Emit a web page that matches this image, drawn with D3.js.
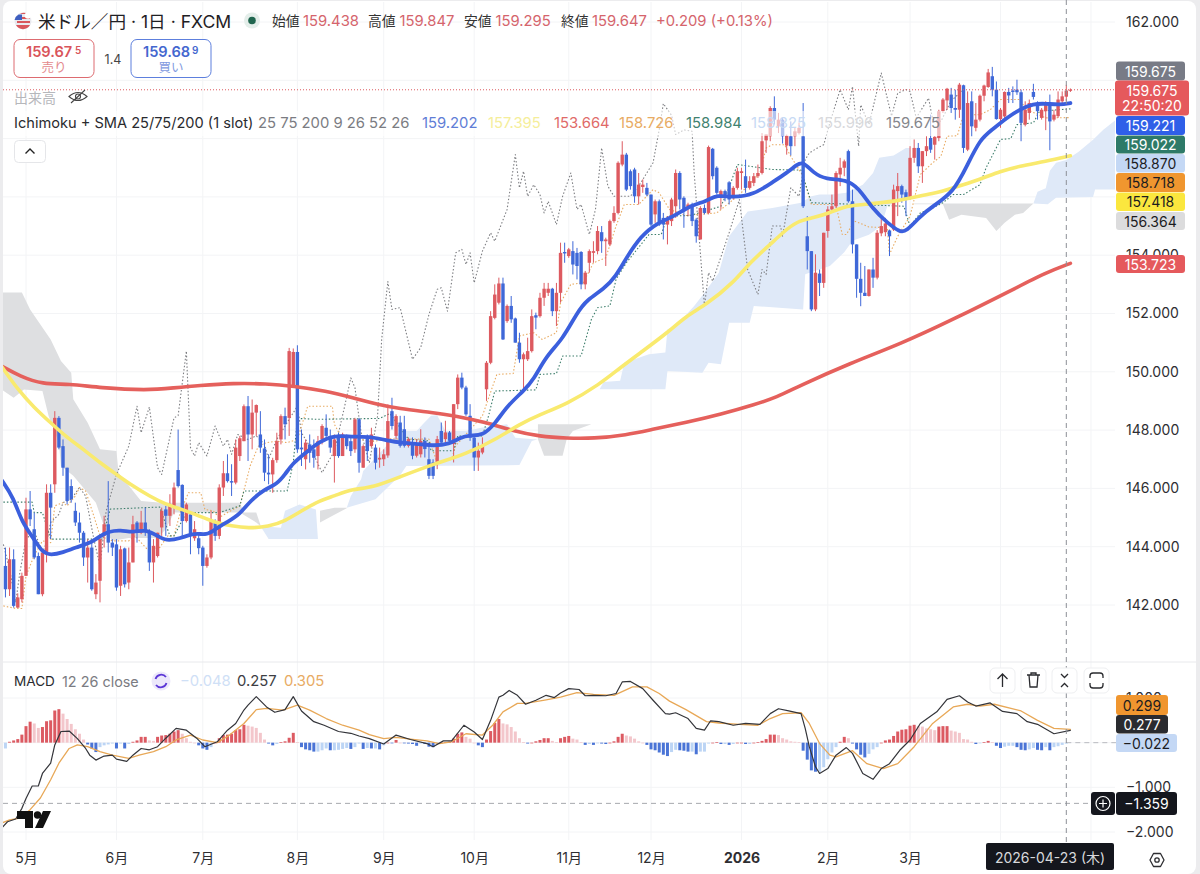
<!DOCTYPE html>
<html>
<head>
<meta charset="utf-8">
<script src="https://cdn.jsdelivr.net/npm/d3@7"></script>
<style>
html, body { margin: 0; padding: 0; background: #fff; }
svg { display: block; font-family: Inter, "Noto Sans CJK JP", sans-serif; }
.axis path { display: none; }
.axis line { display: none; }
</style>
</head>
<body>
<svg width="1200" height="874"></svg>
<script>
// daily bars, first bar is index -5 (five bars before 1 May)
var firstBar = -5;
var openP = [143.34,142.54,143.57,141.91,142.2,
143.0,145.28,144.6,143.68,142.37,143.8,145.85,146.14,148.42,147.45,
146.71,146.08,145.23,144.83,144.48,143.63,143.97,142.37,142.83,144.37,
144.77,144.14,144.08,142.66,143.94,142.77,143.46,144.83,144.48,144.83,
144.48,143.46,143.68,144.66,145.28,145.06,145.4,146.63,146.12,144.88,
145.11,144.29,144.29,143.97,143.34,143.63,144.88,144.37,146.03,146.52,
146.25,146.2,147.11,147.62,148.82,147.85,148.6,147.85,147.37,146.54,
146.48,146.97,147.68,148.48,148.42,149.53,150.68,147.4,147,147.51,
147.34,147.11,147.68,148.08,147.8,147.11,147.74,147.11,147.8,147.62,
147.34,148.37,146.71,147.8,147.45,147.4,146.99,147,147.13,148.65,
147.8,148.26,148.03,147.46,147.52,147.12,147.17,147.63,147.0,146.89,
146.89,147.97,147.69,147.92,147.52,148.89,149.8,149.46,148.49,147.74,
147.06,147.23,149.4,150.31,151.85,152.37,153.03,151.74,152.26,151.83,
151.0,150.43,150.43,150.71,151.94,151.91,152.54,152.71,152.85,152.08,
152.71,154.11,153.97,154.14,154.08,154.11,153.0,153.74,154.08,154.14,
154.79,154.48,154.37,155.17,155.45,157.11,157.45,156.88,156.94,156.02,
156.34,156.31,156.08,155.4,155.85,155.28,155.05,155.17,155.68,156.82,
155.97,155.62,155.74,155.22,154.54,155.62,155.45,157.65,157.0,156.02,
156.2,156.5,155.97,156.31,156.82,156.71,156.31,156.48,156.71,156.82,
157.94,158.08,159.05,158.42,158.65,157.76,158.08,158.08,158.19,158.08,
154.65,154.14,152.14,153.37,153.05,154.83,155.57,155.68,156.77,157.0,
157.57,155.85,154.37,153.19,152.71,152.6,153.51,153.23,154.75,154.79,
154.85,154.88,156.2,156.37,156.16,155.97,157.34,157.68,157.05,157.57,
158.02,157.79,158.02,158.94,159.31,159.51,159.05,158.99,159.83,157.62,
159.28,158.37,158.65,159.47,159.77,160.14,159.68,158.67,158.76,159.6,
159.65,159.68,159.59,158.48,158.88,159.6,159.22,158.71,158.94,159.16,
158.65,158.77,159.28,159.438,159.65];
var closeP = [142.54,143.57,141.97,142.26,143.0,
145.28,144.94,143.63,142.37,143.8,145.85,145.34,148.42,147.4,146.71,
145.57,145.63,144.83,144.48,143.63,143.97,142.54,142.77,144.26,144.77,
144.14,143.97,142.6,143.91,142.71,143.46,144.77,144.48,144.83,144.54,
143.46,144.03,144.48,145.23,145.06,145.4,146.03,146.08,144.88,145.45,
144.43,144.6,143.95,143.34,143.63,144.88,144.37,146.03,146.52,146.25,
146.2,147.4,147.72,148.82,147.85,148.6,148.86,147.4,146.54,146.48,
146.97,147.62,148.48,148.2,150.71,150.68,147.34,147.34,147.57,147.22,
147.05,147.62,148.14,147.8,147.4,147.68,147.11,147.85,147.45,147.28,
148.37,146.88,147.45,147.28,147.85,146.88,147.05,147.17,148.31,148.14,
148.48,147.46,147.46,147.69,147.12,147.52,147.63,147.35,146.43,146.43,
147.69,147.57,147.92,147.63,148.89,149.8,149.46,148.54,147.74,147.06,
147.29,147.46,150.31,151.91,152.65,153.03,151.11,152.26,151.8,151.0,
150.43,150.6,150.71,151.91,151.86,152.54,152.85,152.85,152.08,152.71,
154.08,154.06,154.2,153.68,153.63,153.0,153.4,154.14,154.14,154.83,
154.48,154.54,155.17,155.45,157.17,157.45,156.25,156.37,156.02,156.42,
156.42,156.08,155.05,155.85,155.05,155.05,155.28,155.91,156.82,155.91,
155.57,155.74,155.17,154.65,155.62,155.45,157.71,156.71,156.14,156.2,
155.97,155.91,156.31,156.88,156.88,156.31,156.54,156.71,156.82,157.91,
158.14,159.05,158.65,158.65,158.08,158.1,157.74,158.25,158.37,155.68,
154.14,152.14,153.4,153.05,154.77,155.57,155.68,156.82,157.0,157.22,
155.85,154.37,153.19,152.71,152.6,153.51,153.23,154.77,155.0,155.09,
154.65,156.25,156.37,156.08,155.91,157.34,157.68,157.05,157.57,157.74,
157.62,158.06,158.94,159.34,159.71,159.05,158.99,159.85,157.68,159.22,
158.42,158.65,159.47,159.82,160.27,159.68,158.67,158.99,159.6,159.48,
159.6,159.59,158.54,158.99,159.22,159.43,158.94,158.99,159.16,158.59,
158.82,159.34,159.45,159.647,159.675];
var highP = [143.97,143.97,143.91,142.4,143.11,
145.68,145.91,145.17,143.8,143.9,146.14,146.14,148.65,148.48,147.68,
146.71,146.31,145.51,145.17,144.54,144.26,144.14,143.06,144.37,145.06,
146.25,144.26,144.26,144.03,143.97,143.97,145.06,144.88,145.23,145.34,
144.6,144.26,144.48,145.34,145.4,145.8,146.2,148.02,146.14,145.51,
145.17,144.88,144.49,144.03,143.74,145.23,144.94,146.14,146.94,147.17,
146.83,147.68,147.8,148.88,149.17,149.05,148.88,148.65,147.68,147.17,
147.05,147.91,148.54,148.77,150.82,150.8,150.91,148.02,147.68,147.85,
147.68,147.8,148.2,148.54,148.02,147.85,147.91,147.91,147.85,147.8,
148.42,148.42,147.51,147.85,148.08,147.51,147.4,147.34,148.88,149.11,
148.54,148.49,148.49,147.75,147.75,147.69,148.03,147.75,147.46,147.0,
147.8,148.26,148.32,147.97,148.89,149.91,149.97,149.52,148.89,147.8,
147.57,147.75,150.37,152.08,153.0,153.23,153.23,152.31,152.6,151.86,
151.34,150.66,151.17,152.14,152.03,152.71,153.05,153.05,152.88,153.05,
154.43,154.43,154.25,154.48,154.25,154.14,153.46,154.2,154.48,155.0,
155.0,154.6,155.22,155.68,157.22,157.91,157.51,156.94,157.0,156.82,
156.6,156.48,156.08,155.91,155.91,155.45,155.34,155.97,156.94,156.88,
156.02,155.8,155.8,155.28,155.68,155.74,157.76,157.68,157.05,156.25,
156.25,156.54,156.37,157.0,157.0,157.28,156.71,156.82,157.11,158.19,
158.14,159.11,159.45,158.88,158.71,158.14,158.59,158.37,158.54,159.22,
155.34,154.14,154.03,153.51,154.77,155.68,156.08,156.88,157.34,157.28,
157.62,156.25,154.37,153.74,153.63,153.51,153.91,154.86,155.28,155.28,
154.88,156.42,156.82,156.42,156.25,157.74,157.97,157.85,157.57,158.08,
158.82,158.08,158.99,159.39,159.74,159.74,159.68,159.91,159.85,159.62,
159.62,159.22,159.51,159.85,160.39,160.46,159.96,159.05,159.62,159.74,
159.79,160.02,159.68,159.28,159.34,159.88,159.28,159.05,159.28,159.51,
158.99,159.62,159.62,159.847,159.72];
var lowP = [142.26,142.31,141.91,141.9,142.09,
143.0,144.71,143.57,142.37,142.3,143.46,144.26,145.85,147.34,146.43,
145.45,145.51,144.71,144.14,143.34,142.77,142.49,142.2,142.09,143.97,
143.8,143.68,142.49,142.31,142.6,142.54,143.46,144.14,144.43,144.37,
143.17,142.77,143.63,144.37,144.37,144.71,145.11,146.03,144.37,144.83,
143.74,144.2,143.74,142.66,143.28,143.57,144.2,144.26,145.74,146.2,
145.74,146.14,146.94,147.62,146.94,147.34,147.8,147.22,146.25,146.14,
145.85,146.88,147.51,147.68,147.8,149.5,147.22,146.77,146.65,146.88,
146.71,146.65,147.51,147.68,147.22,146.2,147.05,147.11,147.34,147.11,
147.22,146.54,146.71,146.94,147.4,146.65,146.71,146.77,147.05,148.02,
147.68,147.4,147.4,147.4,147.0,147.06,147.06,147.06,146.32,146.32,
146.66,147.52,147.57,147.57,146.89,148.72,149.4,148.49,147.63,146.6,
146.6,147.17,149.0,150.26,151.8,152.31,151.09,151.68,151.68,151.0,
150.31,149.4,150.37,150.66,151.46,151.86,152.26,152.6,151.91,151.57,
152.37,153.74,153.91,153.34,153.17,152.83,152.83,153.4,153.74,154.03,
154.08,153.63,154.31,155.11,155.4,157.05,156.2,156.25,155.8,155.74,
156.14,156.02,155.0,155.11,155.0,154.54,154.37,155.0,155.28,155.57,
154.94,155.34,155.0,154.43,154.54,155.4,155.4,156.6,156.08,155.57,
155.85,155.74,155.91,156.25,156.25,156.14,156.25,156.37,156.65,156.77,
157.51,157.91,158.48,158.19,157.83,157.45,157.42,157.74,158.14,155.62,
153.51,152.08,152.08,152.6,152.88,154.6,155.45,155.62,156.37,156.71,
155.8,154.06,152.54,152.25,152.6,152.58,152.88,153.17,154.65,154.65,
153.97,154.83,155.34,155.8,155.34,155.91,157.17,156.82,156.48,157.4,
157.51,157.28,157.91,158.88,158.99,158.88,158.65,158.71,157.51,157.57,
158.08,158.25,158.59,159.28,159.74,159.45,158.65,158.37,158.65,159.22,
159.22,159.5,157.91,158.42,158.65,159.34,158.65,158.65,158.29,157.6,
158.59,158.71,159.22,159.295,159.6];

// moving averages, read at the bar indices in the *At arrays
var sma25At = [-6,-3,-1,2,4,6,9,12,16,18,20,23,26,29,32,34,37.5,41,44,46,49,52,54.5,58,61,63,65,68,71.5,75,79,84.5,88.5,91,96,99,103,105.5,108,111,114,117,121,123.5,126.5,130.5,134,136.5,140.5,143.5,146,149.5,153.5,157.5,161.5,165.5,168,172,177,181.5,185,187.5,189,191.5,194.5,199.5,202.5,206,209.5,212.5,214,217.5,220.5,225.5,229,232,235,238.5,241.5,245,248,251.5,254];
var sma25 = [146.3,145.68,144.83,144.26,143.8,143.71,143.8,143.97,144.14,144.37,144.52,144.58,144.48,144.6,144.37,144.2,144.28,144.48,144.39,144.6,144.85,145.11,145.57,145.97,146.14,146.48,146.88,147.22,147.62,147.82,147.77,147.77,147.62,147.57,147.52,147.46,147.52,147.74,147.83,147.8,148.2,148.83,149.34,149.74,150.54,151.11,152.03,152.48,152.83,153.28,153.91,154.65,155.11,155.32,155.7,155.85,156.08,155.97,156.08,156.5,156.82,157.11,157.22,156.82,156.6,156.6,156.31,155.57,155.11,154.79,154.8,155.34,155.68,156.14,157.11,157.97,158.31,158.71,158.99,159.2,159.2,159.16,159.22];
var sma75At = [-6,-2,2,6,10,14,18,22,26,30,34,38,42,46,50,54,59,63,67,71.5,75,79,84.5,91,99,107,115,120,125,131.5,139.5,144.5,149.5,156,160.5,165.5,172,176,181,184,187.5,191.5,195.5,199.5,205,211.5,215,220.5,225.5,232,237,241.5,248,254];
var sma75 = [150.2,149.39,148.77,148.25,147.74,147.34,146.88,146.48,146.08,145.74,145.45,145.28,145.06,144.83,144.71,144.63,144.69,144.88,145.23,145.59,145.74,145.97,146.03,146.4,146.83,147.17,147.74,148.2,148.54,148.89,149.57,150.14,150.66,151.34,151.91,152.31,153.05,153.74,154.37,154.77,155.17,155.28,155.45,155.7,155.76,155.85,155.97,156.1,156.31,156.6,156.88,157.05,157.22,157.41];
var sma200At = [-6,-1.5,4,10.5,18,29.5,36,42,50.5,58.5,65,73,79.5,85.5,90.5,99,104.5,112,118.5,125,131.5,138,146,152.5,160.5,169,177.5,182.5,188,200.5,212.5,226,240,248,254];
var sma200 = [150.2,149.85,149.57,149.59,149.45,149.36,149.45,149.53,149.61,149.59,149.51,149.34,149.11,148.88,148.74,148.6,148.49,148.26,147.97,147.78,147.72,147.71,147.83,148.03,148.26,148.54,148.89,149.12,149.51,150.3,150.94,151.83,152.82,153.4,153.72];

// ichimoku lines
var tenkanAt = [-5.5,-2.5,-1,0,2,4,6,7,9,10,12,13,14.5,16.5,18,21,25,26.5,28,29.5,32.5,34.5,36,37.5,39.5,42.5,43.5,45.5,47,49,52,53.5,54.5,56.5,58.5,61,63.5,66,68.5,74.5,75,76.5,78,84,88,92.5,98,100,103.5,104.5,111,114.5,118.5,120,123.5,125.5,129,130,132.5,135.5,138,141,143.5,145.5,149,152.5,154,156.5,160.5,168,173.5,178.5,180,181.5,184.5,186,189,191,197,198.5,199.5,201.5,205,209.5,210,212,215,217.5,220.5,222.5,224,226.5,228,232,234.5,237,241.5,243.5,248,254];
var tenkan = [141.97,141.88,141.88,143.0,143.7,144.2,144.14,145.4,145.51,145.4,145.74,146.03,145.91,145.05,144.37,144.2,144.2,144.37,144.14,143.91,143.97,144.37,144.37,145.17,145.85,145.85,145.28,145.23,145.0,145.17,145.4,146.2,146.77,147.45,147.57,147.62,147.57,147.68,148.82,148.82,148.2,147.8,147.8,147.6,147.7,147.69,147.69,146.89,147.0,147.46,148.49,149.91,149.94,151.23,151.34,151.11,151.34,152.37,153.0,153.05,153.74,153.91,155.0,155.74,155.74,156.25,156.14,155.57,155.36,155.45,156.08,156.82,157.68,157.79,157.79,157.39,156.71,155.74,155.74,154.71,154.71,155.17,154.97,154.94,154.03,154.65,155.34,156.77,157.17,157.39,158.08,158.1,158.82,158.82,158.99,159.34,159.34,158.99,158.71,158.72];
var kijunAt = [-5.5,1.5,2,4,6,18.5,20.5,32.5,35,36,39,47,52,53,63.5,65,66,71,86,88.5,93,98,98.5,104,105,111,112.5,114,124,125,129,130.5,135,137.5,139,142,143.5,146,151.5,154.5,156,161.5,169,170.5,173,181.5,188.5,191,213.5,215,217.5,220.5,223,225.5,228,232,233.5,237,239.5,241,245,246.5,254];
var kijun = [145.53,145.53,145.17,145.17,144.26,144.26,145.29,145.36,144.37,144.37,145.17,145.17,145.4,145.91,145.91,146.88,148.4,148.37,148.4,148.57,147.69,147.63,147.29,147.29,147.8,147.8,148.49,149.34,149.38,149.91,149.94,150.54,150.54,151.8,152.2,152.26,153.17,153.74,154.71,154.71,155.34,155.36,155.68,156.14,157.11,156.94,156.92,155.8,155.68,154.99,155.45,155.62,155.8,156.08,156.08,156.42,157.0,157.97,158.0,158.48,158.54,158.94,159.02];
var chikouAt = [-5.5,-4,-2.5,-1.5,0,2,4,5,6,8,9,11,13,14.5,16.5,18,19.5,22,25,27,28,30,32,33,36,37,39,40,41,42,44,46,48,49,50,51.5,54,56,58,59,61,64,66,67,69,72,75,77.5,79,80,81.5,83.5,85.5,86.5,88,89,91,94,96,98,100,101,102.5,104.5,106,107,108,109,111,113,114,117,119,120,121,122,123.5,125,126,127,129,130.5,132.5,134,135,137,138.5,140,141.5,143,147,149.5,152.5,154,155,157,158,160,162,162.5,165,166,167,171,173.5,175.5,178,179,180,181.5,183.5,184,186,188,189.5,190.5,192.5,194,195.5,198,200,201,202.5,203,205,208,210.5,212,214,215,216.5,219.5,220.5,222.5,225,228];
var chikou = [144.08,143.23,142.09,143.11,144.26,144.54,143.8,144.14,144.83,145.11,145.51,145.63,146.03,145.74,144.26,143.34,145.23,146.48,147.45,148.82,147.91,148.79,146.71,146.48,148.42,148.5,150.71,147.4,147.11,147.57,147.11,148.14,147.45,147.68,147.17,147.85,147.68,147.8,147.51,147.0,147.68,148.37,148.82,147.91,147.45,146.54,147.28,148.82,149.79,149.45,147.91,146.88,148.48,151.11,153.1,152.14,152.2,150.43,150.83,151.97,152.83,152.88,152.08,154.08,154.2,153.68,154.08,153.05,154.14,154.77,154.48,155.57,157.45,156.31,156.88,156.02,156.42,156.08,155.45,155.85,155.05,156.02,156.82,155.57,155.74,154.71,155.57,157.68,156.37,156.02,156.02,156.48,157.17,158.31,159.2,158.8,158.14,158.3,158.25,156.82,152.26,153.4,153.11,154.77,155.91,153.51,152.65,153.51,153.34,155.0,155.0,154.65,156.31,156.02,157.28,157.51,157.68,157.79,158.54,159.68,158.99,159.79,157.74,159.16,158.48,160.25,158.77,159.56,159.68,159.62,158.71,159.39,158.65,158.59,159.3,159.675];

// kumo pieces, gray = span A below span B, blue = span A above
var gray1At = [-6,-1,1,6,8.5,11,11.5,15,18,22,22.5,27,28,33,52,53,56,57];
var gray1Top = [152.72,152.72,152.14,151.11,150.37,149.97,149.06,148.25,147.34,147.28,146.54,145.74,145.57,145.51,145.51,145.17,145.17,144.75];
var gray1LowAt = [-6,-3,-0.5,4,5.5,8,8.5,11.5,17,19.5,21,25,32,34,36,46,52,56,57];
var gray1Low = [149.4,149.11,149.39,149.34,148.48,147.57,146.77,146.43,145.51,144.48,144.2,144.3,144.3,144.6,145.17,145.17,145.17,144.83,144.71];
var blue1At = [57,62,63,66.5,70.5,71];
var blue1Top = [144.71,144.65,145.23,145.45,145.28,144.26];
var blue1LowAt = [57,59,71];
var blue1Low = [144.71,144.26,144.26];
var gray2At = [71.5,75,78];
var gray2Top = [145.23,145.34,145.34];
var gray2Low = [144.83,145.1,145.32];
var blue2At = [78,79,81.5,82,91,95,96.5,98.5,100,102,107,111,117,119,123.5,124.5];
var blue2Top = [145.34,145.74,146.31,146.6,147.97,147.97,148.2,148.49,148.51,147.97,147.97,148.09,148.2,147.74,147.69,147.69];
var blue2LowAt = [78,85,91,92.5,120,123,124.5];
var blue2Low = [145.34,145.63,146.45,146.77,146.8,147.63,147.69];
var gray3At = [124.5,137.5];
var gray3Top = [148.2,148.2];
var gray3LowAt = [124.5,126,130.5,131.5,133,137.5];
var gray3Low = [147.69,147.12,147.12,147.69,147.97,148.2];
var blue3At = [137.5,139.5,140.5,144.5,145.5,151.5,155.5,156,158,162.5,165,168.5,171,175.5,181.5,188.5,191,193,196,199.5,203.5,206,207.5,211,214,215];
var blue3Top = [148.2,149.4,149.65,149.69,150.31,150.6,150.66,151.46,151.57,152.26,152.71,153.4,154.65,155.5,155.62,155.8,156.02,156.08,156.08,156.14,156.42,156.82,157.34,157.42,157.68,157.68];
var blue3LowAt = [137.5,139.5,155.5,156,164.5,166,169,171,176,177,189,189.5,195.5,199,201,205,208,209.5,215];
var blue3Low = [148.2,149.4,149.4,150.03,149.97,150.31,150.26,151.68,151.68,152.26,152.14,153.35,153.63,154.1,154.5,154.7,155.0,155.7,156.0];
var gray4At = [216,245];
var gray4Top = [155.77,155.77];
var gray4LowAt = [216,223,224.5,227.5,233.5,236,238,240.5,242.5,245];
var gray4Low = [155.75,155.75,155.22,155.39,155.28,154.83,155.11,155.39,155.45,155.77];
var blue4At = [245,246,248,249,250.5,253,256,259.5,262,265];
var blue4Top = [155.77,156.18,156.3,156.9,157.17,157.27,157.55,157.96,158.3,158.64];
var blue4LowAt = [245,248.5,250.5,259.5,260,265];
var blue4Low = [155.77,155.75,155.97,156.0,156.25,156.25];

// macd pane
var macdAt = [-6,-4.5,-2.5,-1,0,1.5,3,4,6,7,8.5,10.5,12.5,14.5,15.5,17,19,21,22,24.5,26,28,30,32,34,36.5,39,41.5,43.5,46.5,49,51,53,54,56,58.5,60.5,63,65,67,70,72.5,76,79,81,83.5,87,90,93.5,97.5,99,101.5,103.5,106.5,109,111,113,115,116,117.5,119.5,121.5,124,126.5,128.5,130,132,134.5,136,138,141,143.5,145,147,150,152.5,155.5,156.5,158,161,163,165,166.5,168.5,172,175,178.5,181,183,185.5,188.5,189.5,190.5,192,193,195,197,199.5,201,203.5,206,208,210,212.5,215,217.5,221.5,224,227,229,231,234.5,237.5,241,243.5,246,250,254];
var macdLine = [-1.92,-1.77,-1.71,-1.47,-1.25,-0.97,-0.97,-0.69,-0.46,-0.05,0.25,0.26,0.09,-0.13,-0.28,-0.39,-0.3,-0.28,-0.37,-0.42,-0.28,-0.13,-0.16,-0.09,0.1,0.32,0.28,0.1,-0.09,0.02,0.28,0.43,0.73,0.84,1.03,0.8,0.68,0.74,1.03,0.71,0.47,0.39,0.25,0.21,0.15,0.09,-0.03,0.17,0.07,-0.02,-0.09,0.04,0.04,0.39,0.24,0.07,0.5,1.02,1.06,1.17,1.06,0.86,0.95,1.06,1.01,1.11,1.21,1.19,1.05,1.06,1.05,1.1,1.36,1.37,1.21,0.95,0.65,0.64,0.67,0.54,0.32,0.28,0.49,0.47,0.39,0.43,0.41,0.65,0.76,0.71,0.65,0.32,-0.09,-0.54,-0.69,-0.58,-0.28,-0.11,-0.24,-0.69,-0.82,-0.58,-0.47,-0.17,0.06,0.43,0.69,0.97,1.05,0.91,0.82,0.89,0.7,0.65,0.47,0.41,0.2,0.277];
var signalAt = [-6,-4,-1.5,1,3.5,6,8,10.5,12.5,15,18,21,25,27.5,31,34,36.5,40,43,46.5,49.5,53,56,58.5,62.5,66,69,73,77,81,83.5,87,90,93.5,97.5,100.5,103.5,107,111,113.5,116,119.5,121.5,126.5,130,134,138,143,147.5,151,154,156.5,160.5,165.5,168.5,173.5,178,181,184,188.5,190.5,193,195.5,197,201,204.5,208.5,212,216,220.5,225.5,229,232,235.5,242,246,250,254];
var signalLine = [-1.8,-1.73,-1.69,-1.5,-1.24,-0.83,-0.46,-0.13,-0.05,-0.09,-0.2,-0.28,-0.35,-0.28,-0.2,-0.09,0.06,0.17,0.06,0,0.17,0.43,0.74,0.77,0.73,0.84,0.73,0.54,0.39,0.28,0.18,0.09,0.12,0.08,0.04,-0.02,0.02,0.2,0.17,0.39,0.69,0.88,0.88,0.96,1.02,1.12,1.08,1.06,1.25,1.25,1.1,0.93,0.74,0.47,0.44,0.41,0.39,0.54,0.65,0.67,0.43,-0.02,-0.28,-0.32,-0.18,-0.47,-0.58,-0.47,-0.09,0.43,0.8,0.86,0.82,0.86,0.71,0.5,0.32,0.299];
var macdHist = [-0.13,0.02,0.05,0.08,0.18,
0.37,0.47,0.43,0.33,0.35,0.48,0.5,0.72,0.75,0.65,
0.53,0.42,0.3,0.2,0.07,-0.04,-0.13,-0.21,-0.1,-0.06,
-0.04,-0.02,-0.13,-0.02,-0.13,-0.03,0.02,0.05,0.13,0.13,
0.05,0.04,0.13,0.16,0.17,0.2,0.25,0.28,0.2,0.1,
0.02,0,-0.06,-0.13,-0.16,-0.1,0,0.1,0.17,0.18,
0.2,0.28,0.3,0.4,0.38,0.36,0.33,0.22,0.07,-0.02,
-0.06,-0.03,0.01,0.03,0.11,0.22,0.01,-0.1,-0.15,-0.17,
-0.2,-0.2,-0.17,-0.13,-0.17,-0.17,-0.16,-0.14,-0.12,-0.14,
-0.1,-0.02,-0.14,-0.12,-0.13,-0.13,-0.15,-0.06,0,-0.01,
0.06,0,-0.01,-0.02,-0.03,-0.07,-0.02,-0.03,-0.09,-0.1,
-0.03,0,0.01,0.02,0.09,0.2,0.23,0.13,0.09,0,
-0.06,-0.1,0.07,0.26,0.44,0.53,0.43,0.41,0.35,0.25,
0.1,0.01,-0.02,0,0.03,0.06,0.1,0.1,0.04,0.01,
0.1,0.13,0.15,0.09,0.07,0.01,-0.05,-0.03,-0.05,-0.01,
-0.02,-0.03,0,0.03,0.13,0.2,0.16,0.14,0.09,0.03,
0,-0.05,-0.15,-0.17,-0.22,-0.27,-0.3,-0.21,-0.16,-0.17,
-0.18,-0.2,-0.2,-0.26,-0.2,-0.2,-0.02,0,0.01,-0.03,
-0.03,-0.05,-0.03,0,0,-0.03,-0.03,0,0.01,0.04,
0.08,0.18,0.18,0.17,0.1,0.07,0.03,0.02,0.01,-0.18,
-0.38,-0.62,-0.65,-0.65,-0.55,-0.37,-0.22,-0.1,0.02,0.13,
0.1,-0.02,-0.15,-0.27,-0.33,-0.25,-0.15,-0.1,0,0.05,
0.07,0.15,0.25,0.29,0.3,0.38,0.4,0.37,0.36,0.32,
0.3,0.28,0.36,0.37,0.37,0.27,0.25,0.22,0.08,0.07,
0.02,-0.03,-0.01,0.01,0.04,0.01,-0.07,-0.12,-0.09,-0.07,
-0.07,-0.1,-0.16,-0.17,-0.15,-0.12,-0.16,-0.17,-0.1,-0.17,
-0.1,-0.08,-0.05,-0.022];

// axes
var priceTicks = [142,144,146,148,150,152,154,156,158,160,162];
var priceLabels = [142,144,146,148,150,152,154,162]; // 156-160 sit behind the price tags
var macdGrid = [-2,-1,0,1];
var macdTicks = [-2,-1,1];
var monthAt = [0,22,43,66,87,109,132,152,174,195,215,237,259];
var monthLabels = ['5月','6月','7月','8月','9月','10月','11月','12月','2026','2月','3月','4月','5月'];

var lastPrice = 159.675, crossBar = 253, crossMacd = -1.359;

var x = d3.scaleLinear().domain([0,253]).range([26,1066.3]);
var y = d3.scaleLinear().domain([142,162]).range([605,22]);
var yM = d3.scaleLinear().domain([-2,1]).range([832,698]);

var upColor = '#dd5a60', downColor = '#3f68d8', gridColor = '#f3f4f6', textColor = '#2e2e32';

var svg = d3.select('svg');
svg.append('rect').attr('width',1200).attr('height',874).attr('fill','#ececee');
svg.append('rect').attr('x',3).attr('y',1).attr('width',1193).attr('height',873).attr('rx',8).attr('fill','#fff');

var defs = svg.append('defs');
defs.append('clipPath').attr('id','mainClip').append('rect').attr('x',3).attr('y',0).attr('width',1112).attr('height',662);
defs.append('clipPath').attr('id','macdClip').append('rect').attr('x',3).attr('y',662).attr('width',1112).attr('height',178);

// grid
var gridG = svg.append('g');
gridG.selectAll('.vgrid').data(monthAt).enter().append('line')
    .attr('x1',function(d){return x(d);}).attr('x2',function(d){return x(d);})
    .attr('y1',2).attr('y2',840).attr('stroke',gridColor);
gridG.selectAll('.hgrid').data(priceTicks).enter().append('line')
    .attr('x1',3).attr('x2',1115)
    .attr('y1',function(d){return y(d);}).attr('y2',function(d){return y(d);}).attr('stroke',gridColor);
gridG.selectAll('.mgrid').data(macdGrid).enter().append('line')
    .attr('x1',3).attr('x2',1115)
    .attr('y1',function(d){return yM(d);}).attr('y2',function(d){return yM(d);}).attr('stroke',gridColor);

var main = svg.append('g').attr('clip-path','url(#mainClip)');

function zip(at, vals) {
    return at.map(function(a,i){ return {i:a, v:vals[i]}; });
}

// each kumo piece has a top edge and a lower edge, the lower edge goes back in reverse
function kumo(topAt, topVals, lowAt, lowVals, color) {
    var line = d3.line().x(function(d){return x(d.i);}).y(function(d){return y(d.v);});
    var pts = zip(topAt, topVals).concat(zip(lowAt, lowVals).reverse());
    main.append('path').attr('d', line(pts)+'Z').attr('fill',color).attr('stroke','none');
}
var cloudGray = '#dedfe1', cloudBlue = '#dfe9f8';
kumo(gray1At, gray1Top, gray1LowAt, gray1Low, cloudGray);
kumo(blue1At, blue1Top, blue1LowAt, blue1Low, cloudBlue);
kumo(gray2At, gray2Top, gray2At, gray2Low, cloudGray);
kumo(blue2At, blue2Top, blue2LowAt, blue2Low, cloudBlue);
kumo(gray3At, gray3Top, gray3LowAt, gray3Low, cloudGray);
kumo(blue3At, blue3Top, blue3LowAt, blue3Low, cloudBlue);
kumo(gray4At, gray4Top, gray4LowAt, gray4Low, cloudGray);
kumo(blue4At, blue4Top, blue4LowAt, blue4Low, cloudBlue);

// thin dotted ichimoku lines
function drawLine(g, at, vals, sc, color, width, dash, curve) {
    var line = d3.line().x(function(d){return x(d.i);}).y(function(d){return sc(d.v);});
    if (curve) line.curve(curve);
    g.append('path').attr('d',line(zip(at,vals))).attr('fill','none')
        .attr('stroke',color).attr('stroke-width',width)
        .attr('stroke-dasharray',dash).attr('stroke-linejoin','round')
        .attr('stroke-linecap',dash?'butt':'round');
}
drawLine(main, chikouAt, chikou, y, '#7d7e82', 1.1, '1.5,2');
drawLine(main, tenkanAt, tenkan, y, '#e8ab63', 1.1, '1.5,2');
drawLine(main, kijunAt, kijun, y, '#3b7c69', 1.1, '1.5,2');

// candles
var bars = openP.map(function(o,k){
    return {i:k+firstBar, o:o, c:closeP[k], h:highP[k], l:lowP[k]};
});
main.selectAll('.wick').data(bars).enter().append('line')
    .attr('x1',function(d){return x(d.i);}).attr('x2',function(d){return x(d.i);})
    .attr('y1',function(d){return y(d.h);}).attr('y2',function(d){return y(d.l);})
    .attr('stroke',function(d){return d.c>=d.o?upColor:downColor;}).attr('stroke-width',1);
main.selectAll('.body').data(bars).enter().append('rect')
    .attr('x',function(d){return x(d.i)-1.7;}).attr('width',3.4)
    .attr('y',function(d){return y(Math.max(d.o,d.c));})
    .attr('height',function(d){return Math.max(1,Math.abs(y(d.o)-y(d.c)));})
    .attr('fill',function(d){return d.c>=d.o?upColor:downColor;});

// sma 200, 75, 25
drawLine(main, sma200At, sma200, y, '#e5605c', 3.6, null, d3.curveBasis);
drawLine(main, sma75At, sma75, y, '#f9ea6e', 3.6, null, d3.curveBasis);
drawLine(main, sma25At, sma25, y, '#3b5fdd', 3.8, null, d3.curveBasis);

// legend row washes out what is behind it
svg.append('rect').attr('x',3).attr('y',111).attr('width',945).attr('height',25).attr('fill','#fff').attr('opacity',0.6);

// last price line
svg.append('line').attr('x1',3).attr('x2',1115).attr('y1',y(lastPrice)).attr('y2',y(lastPrice))
    .attr('stroke','#dd5a60').attr('stroke-width',1).attr('stroke-dasharray','1,2');

// macd pane
svg.append('line').attr('x1',3).attr('x2',1196).attr('y1',662).attr('y2',662).attr('stroke','#e8e9ec');
var macdG = svg.append('g').attr('clip-path','url(#macdClip)');
macdG.selectAll('.hist').data(macdHist).enter().append('rect')
    .attr('x',function(d,k){return x(k+firstBar)-1.5;}).attr('width',3)
    .attr('y',function(d){return d>=0?yM(d):yM(0);})
    .attr('height',function(d){return Math.max(0.7,Math.abs(yM(d)-yM(0)));})
    .attr('fill',function(d,k){
        var prev = k>0?macdHist[k-1]:d;
        if (d>=0) return d>=prev?'#dc5a62':'#f3c6cb';
        return d<prev?'#4a74d6':'#bcd5f5';
    });
drawLine(macdG, signalAt, signalLine, yM, '#e8a857', 1.3, null);
drawLine(macdG, macdAt, macdLine, yM, '#34353a', 1.2, null);
svg.append('line').attr('x1',x(crossBar)).attr('x2',1116).attr('y1',yM(0)).attr('y2',yM(0))
    .attr('stroke','#b9bbc0').attr('stroke-dasharray','5,4');
svg.append('line').attr('x1',3).attr('x2',1091).attr('y1',yM(crossMacd)).attr('y2',yM(crossMacd))
    .attr('stroke','#a6a8ad').attr('stroke-dasharray','5,4');

// crosshair
svg.append('line').attr('x1',x(crossBar)).attr('x2',x(crossBar)).attr('y1',0).attr('y2',843)
    .attr('stroke','#8d8f96').attr('stroke-dasharray','5,4');

// tv logo
svg.append('path').attr('d','M17 811h16v17h-8v-9h-8zM43 811h8l-8 17h-8z').attr('fill','#111');
svg.append('circle').attr('cx',37.5).attr('cy',815).attr('r',3.7).attr('fill','#111');

// right price axis
var axisFont = '14px';
svg.append('g').attr('class','axis').attr('transform','translate(1126,0)')
    .call(d3.axisRight(y).tickValues(priceLabels).tickFormat(d3.format('.3f')).tickSize(0).tickPadding(0))
    .selectAll('text').style('font-size',axisFont).style('font-family','Inter').attr('fill',textColor);
svg.append('g').attr('class','axis').attr('transform','translate(1126,0)')
    .call(d3.axisRight(yM).tickValues(macdTicks).tickFormat(d3.format('.3f')).tickSize(0).tickPadding(0))
    .selectAll('text').style('font-size',axisFont).style('font-family','Inter').attr('fill',textColor);

// bottom time axis
var timeAxis = svg.append('g').attr('class','axis').attr('transform','translate(0,853)')
    .call(d3.axisBottom(x).tickValues(monthAt.slice(0,11)).tickFormat(function(d,k){return monthLabels[k];}).tickSize(0).tickPadding(0));
timeAxis.selectAll('text').style('font-size',axisFont).style('font-family','Inter, "Noto Sans CJK JP"')
    .attr('fill',textColor).attr('font-weight',function(d,k){return monthLabels[k]==='2026'?700:400;});

// small helpers for the terminal chrome
function label(px, py, str, size, color, opts) {
    opts = opts || {};
    return svg.append('text').attr('x',px).attr('y',py).text(str)
        .attr('font-size',size).attr('fill',color)
        .attr('text-anchor',opts.anchor||'start').attr('dominant-baseline','central')
        .attr('font-weight',opts.weight||400);
}
function box(px, py, w, h, fill, str, color) {
    svg.append('rect').attr('x',px).attr('y',py).attr('width',w).attr('height',h).attr('rx',3).attr('fill',fill);
    if (str) label(px+w/2, py+h/2, str, 14, color, {anchor:'middle'});
}

// price tags
box(1116,61.5,69,19,'#787b86','159.675','#fff');
svg.append('rect').attr('x',1115).attr('y',80.5).attr('width',74).attr('height',35).attr('rx',3).attr('fill','#e5595c');
label(1152,90.5,'159.675',14,'#fff',{anchor:'middle'});
label(1152,105.5,'22:50:20',14,'#fff',{anchor:'middle'});
box(1116,116,69,19,'#2f5fe8','159.221','#fff');
box(1116,135.5,69,18,'#2e7a68','159.022','#fff');
box(1116,154,69,18.5,'#c4d8f5','158.870','#1c1c1f');
box(1116,173,69,19,'#f0962f','158.718','#1c1c1f');
box(1116,192.5,69,18.5,'#fbe73e','157.418','#1c1c1f');
box(1116,212,69,18,'#dcdcdd','156.364','#1c1c1f');
box(1116,255,69,18,'#e5595c','153.723','#fff');

// macd tags
box(1116,695,52,20,'#f0962f','0.299','#1c1c1f');
box(1116,715,52,18.5,'#2a2b2f','0.277','#fff');
box(1116,734,61,18,'#c4d8f5','−0.022','#1c1c1f');
box(1116,792,61,23,'#14161d','−1.359','#fff');
box(1091,792,24,23,'#14161d');
svg.append('circle').attr('cx',1103).attr('cy',803.5).attr('r',7).attr('fill','none').attr('stroke','#fff').attr('stroke-width',1.2);
svg.append('path').attr('d','M1103 799.5v8M1099 803.5h8').attr('stroke','#fff').attr('stroke-width',1.2);

// date tag
svg.append('rect').attr('x',986).attr('y',843).attr('width',128).attr('height',27).attr('rx',2).attr('fill','#14161d');
label(1050,857,'2026-04-23 (木)',14,'#d8d9dc',{anchor:'middle'});

// settings hexagon
svg.append('path').attr('d','M1150 860l3.5-6.5h7l3.5 6.5-3.5 6.5h-7z').attr('fill','none').attr('stroke','#2e2e32').attr('stroke-width',1.3).attr('stroke-linejoin','round');
svg.append('circle').attr('cx',1157).attr('cy',860).attr('r',2.2).attr('fill','none').attr('stroke','#2e2e32').attr('stroke-width',1.3);

// header: flag, title, status dot
svg.append('circle').attr('cx',23).attr('cy',21).attr('r',8.5).attr('fill','#e9e9ee');
svg.append('path').attr('d','M16 25h14a8 8 0 0 1-14 0zM20 14a8 8 0 0 1 8 0zM17 17h13v2h-13zM17 21h13v2h-13z').attr('fill','#d9565b');
svg.append('path').attr('d','M14.6 20a8 8 0 0 1 4-5.5l3.4 0v5.5z').attr('fill','#3f5fc0');
svg.append('circle').attr('cx',28).attr('cy',15.5).attr('r',3.2).attr('fill','#fff');
label(38,21,'米ドル／円 · 1日 · FXCM',17.6,'#1f2024');
svg.append('circle').attr('cx',252).attr('cy',20.5).attr('r',8).attr('fill','#e4eeea');
svg.append('circle').attr('cx',252).attr('cy',20.5).attr('r',3.8).attr('fill','#20664f');

var ohlcRed = '#d5646c', hFont = 14.8;
label(272,21,'始値',hFont-1,'#333');
label(303,21,'159.438',hFont,ohlcRed);
label(368,21,'高値',hFont-1,'#333');
label(399.5,21,'159.847',hFont,ohlcRed);
label(464,21,'安値',hFont-1,'#333');
label(495.5,21,'159.295',hFont,ohlcRed);
label(561,21,'終値',hFont-1,'#333');
label(592,21,'159.647',hFont,ohlcRed);
label(656,21,'+0.209 (+0.13%)',hFont,ohlcRed);

// sell and buy buttons
svg.append('rect').attr('x',14).attr('y',39.5).attr('width',80).attr('height',38).attr('rx',6).attr('fill','#fff').attr('stroke','#dd6b70');
label(26,51.5,'159.67',14.6,'#d9545a',{weight:600});
label(75,49.5,'5',10,'#d9545a',{weight:600});
label(54,67,'売り',12.5,'#e48a8d',{anchor:'middle'});
label(113,59,'1.4',12.5,'#444',{anchor:'middle'});
svg.append('rect').attr('x',131).attr('y',39.5).attr('width',80).attr('height',38).attr('rx',6).attr('fill','#fff').attr('stroke','#5d7fdd');
label(143,51.5,'159.68',14.6,'#4467cf',{weight:600});
label(192,49.5,'9',10,'#4467cf',{weight:600});
label(171,67,'買い',12.5,'#7f9ae0',{anchor:'middle'});

// volume row with crossed eye
label(14,97,'出来高',14,'#b6b7bb');
svg.append('path').attr('d','M69 96.5q9-8 18 0q-9 8-18 0zM71 103l14-13').attr('fill','none').attr('stroke','#444').attr('stroke-width',1.1);
svg.append('circle').attr('cx',78).attr('cy',96.5).attr('r',2.5).attr('fill','none').attr('stroke','#444').attr('stroke-width',1.1);

// ichimoku legend
label(14,123,'Ichimoku + SMA 25/75/200 (1 slot)',14.6,'#2a2b2f');
label(258,123,'25 75 200 9 26 52 26',14.8,'#7b7c82');
label(422,123,'159.202',hFont,'#5f7dd6');
label(488,123,'157.395',hFont,'#f5ee9a');
label(554,123,'153.664',hFont,'#e06a68');
label(619,123,'158.726',hFont,'#e8ab63');
label(686,123,'158.984',hFont,'#3f8270');
label(751,123,'158.825',hFont,'#c7daf4');
label(818,123,'155.996',hFont,'#d8d9dc');
label(886,123,'159.675',hFont,'#85868c');
svg.append('rect').attr('x',14.5).attr('y',140.5).attr('width',31).attr('height',22).attr('rx',4).attr('fill','#fff').attr('stroke','#e5e6e9');
svg.append('path').attr('d','M25.5 153.5l4.5-4.5 4.5 4.5').attr('fill','none').attr('stroke','#222').attr('stroke-width',1.4);

// macd legend
label(14,681,'MACD',13.6,'#2a2b2f');
label(62,681,'12 26 close',hFont-0.4,'#7b7c82');
svg.append('circle').attr('cx',161).attr('cy',681).attr('r',9.5).attr('fill','#ece8fb');
svg.append('path').attr('d','M155.5 679a6 6 0 0 1 10.5-2M166.5 683a6 6 0 0 1-10.5 2').attr('fill','none').attr('stroke','#5b36d6').attr('stroke-width',1.8);
label(180,681,'−0.048',hFont,'#cfe0f6');
label(237,681,'0.257',hFont,'#3d3e43');
label(284,681,'0.305',hFont,'#e8ab63');

// pane buttons
[990,1021,1052,1084].forEach(function(bx){
    svg.append('rect').attr('x',bx).attr('y',668).attr('width',25).attr('height',25).attr('rx',5).attr('fill','#fff').attr('stroke','#eeeff1');
});
svg.append('path').attr('d','M1002.5 687v-13M997.5 679l5-5 5 5').attr('fill','none').attr('stroke','#2a2b2f').attr('stroke-width',1.3);
svg.append('path').attr('d','M1027 675h13M1031 675v-2h5v2M1029 675l1 12h7l1-12').attr('fill','none').attr('stroke','#2a2b2f').attr('stroke-width',1.3);
svg.append('path').attr('d','M1061 674l3.5 3.5 3.5-3.5M1061 687l3.5-3.5 3.5 3.5').attr('fill','none').attr('stroke','#2a2b2f').attr('stroke-width',1.3);
svg.append('path').attr('d','M1090 678v-2a3 3 0 0 1 3-3h7a3 3 0 0 1 3 3v2M1090 683v2a3 3 0 0 0 3 3h7a3 3 0 0 0 3-3v-2').attr('fill','none').attr('stroke','#2a2b2f').attr('stroke-width',1.3);
</script>
</body>
</html>
